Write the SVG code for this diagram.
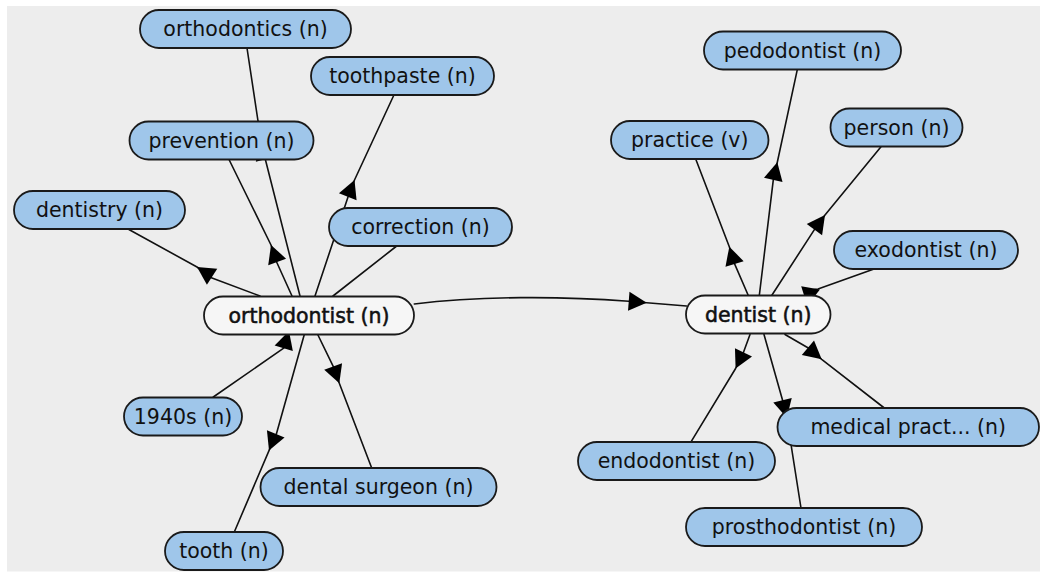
<svg xmlns="http://www.w3.org/2000/svg" xmlns:xlink="http://www.w3.org/1999/xlink" width="1040" height="572" viewBox="0 0 1040 572">
  <style>
    .edge { fill: none; stroke: #111; stroke-width: 1.6; stroke-linejoin: round; stroke-linecap: round; }
    .head { fill: #000; stroke: none; }
    .node rect { fill: #9fc6ea; stroke: #1a1a1a; stroke-width: 1.8; }
    .node.hub rect { fill: #f6f6f6; }
    .node text { font-family: "DejaVu Sans", "Verdana", sans-serif; font-size: 20.5px; fill: #111; text-anchor: middle; }
    .node.hub text { stroke: #111; stroke-width: 0.55; }
  </style>
  <defs>
    <!-- arrowhead: tip at origin, pointing along +x -->
    <path id="ah" class="head" d="M0,0 L-18,-9.5 L-18,9.5 Z"/>
  </defs>

  <rect x="7" y="6" width="1033" height="565.5" fill="#ededed"/>

  <g id="connectors">
    <!-- orthodontist -> orthodontics (head hidden under prevention) -->
    <path class="edge" d="M300,296 L265.5,160 L258,121 L247,48"/>
    <use xlink:href="#ah" transform="translate(260.5,142) rotate(-104.5)"/>
    <!-- orthodontist -> prevention -->
    <path class="edge" d="M292,296 L276.6,262 L271,245 L229,159.5"/>
    <use xlink:href="#ah" transform="translate(271,245) rotate(-110)"/>
    <!-- orthodontist -> dentistry -->
    <path class="edge" d="M260,296 L212,278 L197,267 L128,229"/>
    <use xlink:href="#ah" transform="translate(197,267) rotate(213)"/>
    <!-- orthodontist -> toothpaste -->
    <path class="edge" d="M315,296 L348,197 L354.5,180 L393.7,95.5"/>
    <use xlink:href="#ah" transform="translate(354.5,180) rotate(-68)"/>
    <!-- correction - orthodontist -->
    <path class="edge" d="M333,296 L396.7,246"/>
    <!-- 1940s -> orthodontist -->
    <path class="edge" d="M213.3,397 L283.7,348.2 L289,331"/>
    <use xlink:href="#ah" transform="translate(289,331) rotate(-73)"/>
    <!-- orthodontist -> tooth -->
    <path class="edge" d="M304.3,334.5 L276.3,434.2 L269,450.6 L234.3,532"/>
    <use xlink:href="#ah" transform="translate(269,450.6) rotate(112)"/>
    <!-- orthodontist -> dental surgeon -->
    <path class="edge" d="M317.7,334.5 L333.2,366.4 L339.3,383.3 L371.7,468"/>
    <use xlink:href="#ah" transform="translate(339.3,383.3) rotate(70)"/>
    <!-- orthodontist -> dentist -->
    <path class="edge" d="M414.3,304 C480,296 560,296 628.7,301.3 L646.7,302.7 L686.5,306"/>
    <use xlink:href="#ah" transform="translate(646.7,302.7) rotate(4.4)"/>

    <!-- dentist -> practice -->
    <path class="edge" d="M748.3,295.5 L734.6,263.9 L729.3,246.7 L695.7,159"/>
    <use xlink:href="#ah" transform="translate(729.3,246.7) rotate(-107)"/>
    <!-- dentist -> pedodontist -->
    <path class="edge" d="M759.3,295.5 L773.3,179.8 L777.3,162.3 L797.3,69.7"/>
    <use xlink:href="#ah" transform="translate(777.3,162.3) rotate(-77)"/>
    <!-- dentist -> person -->
    <path class="edge" d="M771.7,295.5 L814.4,229.6 L825,215 L881,146.7"/>
    <use xlink:href="#ah" transform="translate(825,215) rotate(-54)"/>
    <!-- exodontist -> dentist -->
    <path class="edge" d="M873.3,269.3 L818,289 L810.5,290"/>
    <use xlink:href="#ah" transform="translate(807.4,305.7) rotate(100)"/>
    <!-- dentist -> endodontist -->
    <path class="edge" d="M750,334.5 L743.5,352.3 L735.6,368.5 L690.7,442.3"/>
    <use xlink:href="#ah" transform="translate(735.6,368.5) rotate(116)"/>
    <!-- dentist -> prosthodontist (passes behind medical practitioner) -->
    <path class="edge" d="M764,334.5 L782.5,400 L786.8,417.7 L801,508"/>
    <use xlink:href="#ah" transform="translate(786.8,417.7) rotate(76.3)"/>
    <!-- dentist -> medical practitioner -->
    <path class="edge" d="M785,334.5 L807.9,347.7 L821.7,359.3 L884.3,408"/>
    <use xlink:href="#ah" transform="translate(821.7,359.3) rotate(40)"/>
  </g>

  <g id="n-orthodontics" class="node"><rect x="140" y="10" width="211" height="38" rx="19"/><text x="245.5" y="36">orthodontics (n)</text></g>
  <g id="n-toothpaste" class="node"><rect x="311" y="57" width="183" height="38" rx="19"/><text x="402.5" y="83">toothpaste (n)</text></g>
  <g id="n-prevention" class="node"><rect x="129.5" y="121.5" width="184" height="38" rx="19"/><text x="221.5" y="147.5">prevention (n)</text></g>
  <g id="n-dentistry" class="node"><rect x="14" y="191" width="171" height="38" rx="19"/><text x="99.5" y="217">dentistry (n)</text></g>
  <g id="n-correction" class="node"><rect x="329" y="208" width="183" height="38" rx="19"/><text x="420.5" y="234">correction (n)</text></g>
  <g id="n-orthodontist" class="node hub"><rect x="204" y="296.5" width="210" height="38" rx="19"/><text x="309" y="323">orthodontist (n)</text></g>
  <g id="n-1940s" class="node"><rect x="124" y="397.5" width="118" height="38" rx="19"/><text x="183" y="423.5">1940s (n)</text></g>
  <g id="n-dental-surgeon" class="node"><rect x="260.5" y="468" width="236" height="38" rx="19"/><text x="378.5" y="494">dental surgeon (n)</text></g>
  <g id="n-tooth" class="node"><rect x="165" y="532" width="118" height="38" rx="19"/><text x="224" y="558">tooth (n)</text></g>

  <g id="n-pedodontist" class="node"><rect x="704" y="31.5" width="197" height="38" rx="19"/><text x="802.5" y="57.5">pedodontist (n)</text></g>
  <g id="n-practice" class="node"><rect x="611" y="121" width="157.5" height="38" rx="19"/><text x="689.75" y="147">practice (v)</text></g>
  <g id="n-person" class="node"><rect x="830.5" y="108.5" width="132" height="38" rx="19"/><text x="896.5" y="134.5">person (n)</text></g>
  <g id="n-exodontist" class="node"><rect x="834" y="231" width="184" height="38" rx="19"/><text x="926" y="257">exodontist (n)</text></g>
  <g id="n-dentist" class="node hub"><rect x="686" y="295.5" width="144.5" height="38" rx="19"/><text x="758.25" y="322">dentist (n)</text></g>
  <g id="n-medical-pract" class="node"><rect x="777.5" y="408" width="261.5" height="38" rx="19"/><text x="908.25" y="434">medical pract... (n)</text></g>
  <g id="n-endodontist" class="node"><rect x="578" y="442" width="197" height="38" rx="19"/><text x="676.5" y="468">endodontist (n)</text></g>
  <g id="n-prosthodontist" class="node"><rect x="686" y="508" width="236" height="38" rx="19"/><text x="804" y="534">prosthodontist (n)</text></g>
</svg>
